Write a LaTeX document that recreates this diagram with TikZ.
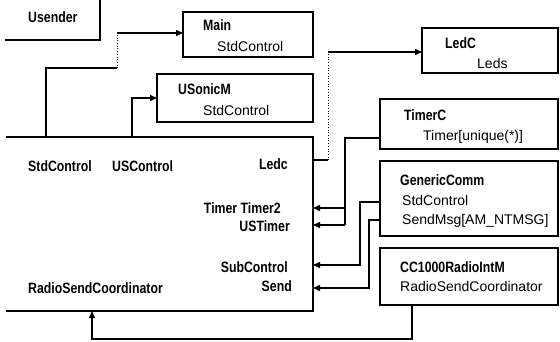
\documentclass[tikz,border=0pt]{standalone}
\usepackage{fontspec}
\setmainfont{Liberation Sans}
\newfontfamily\bfc{Liberation Sans}[FakeStretch=0.82]
\usetikzlibrary{arrows.meta}
\begin{document}
\begin{tikzpicture}[x=1pt,y=-1pt,
  box/.style={draw, line width=1.4pt, anchor=north west, inner sep=0pt, outer sep=0pt},
  area/.style={anchor=north west, inner sep=0pt, outer sep=0pt},
  bl/.style={font=\bfc\bfseries\fontsize{15}{15}\selectfont, inner sep=0pt, anchor=base west},
  blr/.style={font=\bfc\bfseries\fontsize{15}{15}\selectfont, inner sep=0pt, anchor=base east},
  rg/.style={font=\fontsize{14}{14}\selectfont, inner sep=0pt, anchor=base west},
  wire/.style={line width=1.4pt},
  faint/.style={line width=0.7pt, dotted},
  arr/.style={-{Triangle[length=7pt,width=6pt]}}]
\useasboundingbox (0,0) rectangle (560,341);
% Usender (partly outside the picture)
\node[area, minimum width=95, minimum height=40] (usender) at (5,0) {};
\draw[wire] (usender.south west) -- (usender.south east) -- (usender.north east);
\node[bl] (tus) at (28,22) {Usender};
% boxes
\node[box, minimum width=130, minimum height=45] (main) at (183,12) {};
\node[bl] (tmain) at (203,30) {Main};
\node[rg] (tmain2) at (217,51) {StdControl};
\node[box, minimum width=156, minimum height=48] (usonic) at (157,74) {};
\node[bl] (tus1) at (178,94) {USonicM};
\node[rg] (tus2) at (203,115) {StdControl};
\node[box, minimum width=136, minimum height=45] (ledc) at (422,28) {};
\node[bl] (tled1) at (445,48) {LedC};
\node[rg] (tled2) at (477,68) {Leds};
\node[box, minimum width=178, minimum height=50] (timer) at (380,99) {};
\node[bl] (ttim1) at (404,120) {TimerC};
\node[rg] (ttim2) at (423,140) {Timer[unique(*)]};
\node[box, minimum width=178, minimum height=75] (gen) at (380,161) {};
\node[bl] (tgen1) at (400,185) {GenericComm};
\node[rg] (tgen2) at (402,205) {StdControl};
\node[rg] (tgen3) at (402,224) {SendMsg[AM\_NTMSG]};
\node[box, minimum width=178, minimum height=57] (cc) at (380,248) {};
\node[bl] (tcc1) at (400,272) {CC1000RadioIntM};
\node[rg] (tcc2) at (400,291) {RadioSendCoordinator};
% big component (left side outside the picture)
\node[area, minimum width=307, minimum height=174] (big) at (6,137) {};
\draw[wire] (big.north west) -- (big.north east) -- (big.south east) -- (big.south west);
\node[bl] (b1) at (28,171) {StdControl};
\node[bl] (b2) at (112,171) {USControl};
\node[blr] (b3) at (288,169) {Ledc};
\node[blr] (b4) at (281,213) {Timer Timer2};
\node[blr] (b5) at (290,231) {USTimer};
\node[blr] (b6) at (288,272) {SubControl};
\node[blr] (b7) at (292,291) {Send};
\node[bl] (b8) at (28,293) {RadioSendCoordinator};
% helper coordinates
\coordinate (c1) at (117,68);
\coordinate (c2) at (117,33);
\coordinate (c3) at (328,160);
\coordinate (c4) at (328,52);
% connectors
\draw[wire] (big.north west -| 46,0) |- (c1);
\draw[faint] (c1) -- (c2);
\draw[wire, arr] (c2) -- (main.west |- c2);
\draw[wire, arr] (big.north west -| 132,0) |- (usonic.west);
\draw[wire] (big.east |- c3) -- (c3);
\draw[faint] (c3) -- (c4);
\draw[wire, arr] (c4) -- (ledc.west |- c4);
\draw[wire] (timer.west |- 0,138) -| (345,225);
\draw[wire, arr] (345,225) -- (big.east |- 0,225);
\draw[wire, arr] (345,208) -- (big.east |- 0,208);
\draw[wire, arr] (gen.west |- 0,202) -| (360,265) -- (big.east |- 0,265);
\draw[wire, arr] (gen.west |- 0,220) -| (369,288) -- (big.east |- 0,288);
\draw[wire, arr] (cc.south west -| 412,0) |- (92,339) -- (big.south west -| 92,0);
\end{tikzpicture}
\end{document}
